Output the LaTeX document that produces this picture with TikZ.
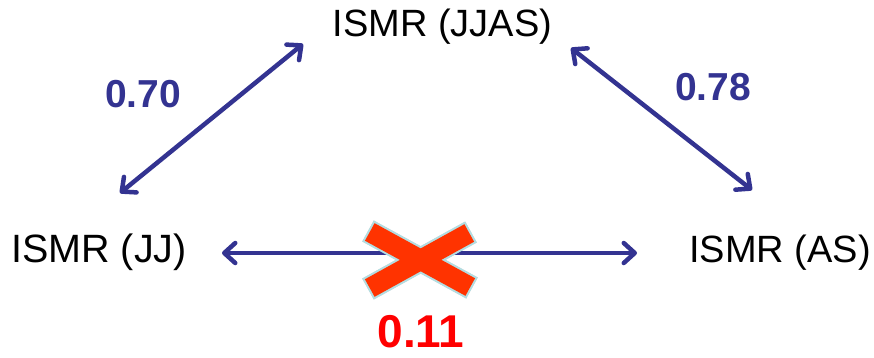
\documentclass[tikz,border=0pt]{standalone}
\usepackage{fontspec}
\setmainfont{Liberation Sans}
\usetikzlibrary{arrows.meta}
\definecolor{arrowblue}{RGB}{51,51,145}
\definecolor{crossred}{RGB}{255,51,0}
\definecolor{crossedge}{RGB}{178,222,226}
\definecolor{numred}{RGB}{255,0,0}
\tikzset{
  label/.style={inner sep=0pt, font=\fontsize{38}{40}\selectfont, text=black},
  corr/.style={inner sep=0pt, font=\fontsize{39}{41}\selectfont\bfseries, text=arrowblue},
  link/.style={draw=arrowblue, line width=4.5pt,
    {Straight Barb[length=11pt,width=20pt,round]}-{Straight Barb[length=11pt,width=20pt,round]}},
  crossborder/.style={draw=crossedge, line width=24pt, line cap=butt},
  crossfill/.style={draw=crossred, line width=20pt, line cap=butt},
  crossshadow/.style={draw=black, opacity=0.18, line width=24pt, line cap=butt}
}
\begin{document}
\begin{tikzpicture}[x=1pt,y=-1pt]
\useasboundingbox (0,0) rectangle (874,357);
% nodes
\node[label, anchor=base] (jjas) at (442.5,36) {ISMR (JJAS)};
\node[label, font=\fontsize{39.5}{41}\selectfont, anchor=base west] (jj) at (11,262) {ISMR (JJ)};
\node[label, anchor=base east] (as) at (871,262) {ISMR (AS)};
\node[corr, anchor=base] (c1) at (143,107) {0.70};
\node[corr, anchor=base] (c2) at (713,100) {0.78};
\node[inner sep=0pt, font=\fontsize{46}{48}\selectfont\bfseries, text=numred, anchor=base] (c3) at (421,347) {0.11};
% connector end points
\coordinate (l1) at (120,193);
\coordinate (l2) at (303,44);
\coordinate (r1) at (571,48);
\coordinate (r2) at (752,190);
\coordinate (h1) at (222,253);
\coordinate (h2) at (637,253);
\draw[link] (l1) -- (l2);
\draw[link] (r1) -- (r2);
\draw[link] (h1) -- (h2);
% cross
\coordinate (xa1) at (368,231);
\coordinate (xa2) at (472,288);
\coordinate (xb1) at (471,232);
\coordinate (xb2) at (368,289);
\begin{scope}[shift={(3,4)}]
\draw[crossshadow] (xa1) -- (xa2);
\draw[crossshadow] (xb1) -- (xb2);
\end{scope}
\draw[crossborder] (xa1) -- (xa2);
\draw[crossborder] (xb1) -- (xb2);
\draw[crossfill, shorten <=2pt, shorten >=2pt] (xa1) -- (xa2);
\draw[crossfill, shorten <=2pt, shorten >=2pt] (xb1) -- (xb2);
\end{tikzpicture}
\end{document}
